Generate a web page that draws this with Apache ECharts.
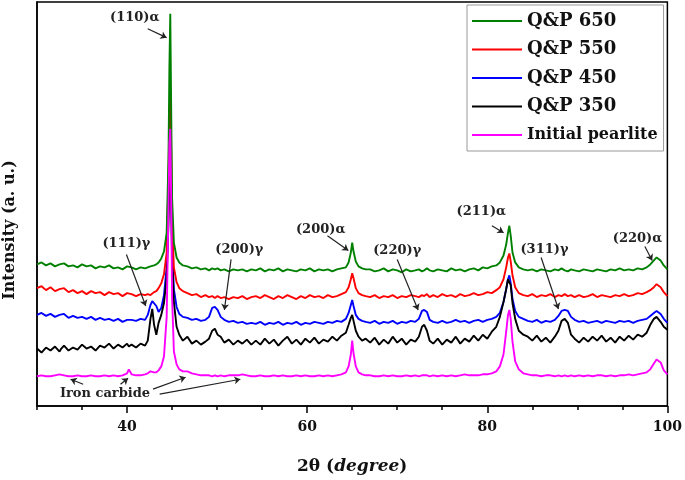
<!DOCTYPE html>
<html>
<head>
<meta charset="utf-8">
<script src="https://cdn.jsdelivr.net/npm/echarts@6/dist/echarts.min.js"></script>
<style>html,body{margin:0;padding:0;background:#fff}#c{width:685px;height:480px}</style>
</head>
<body>
<div id="c"></div>
<script>
const twoTheta = [
30,30.5,31,31.5,32,32.5,32.7,33,33.5,34,34.5,35,35.5,36,36.5,37,37.5,38,38.5,39,39.5,40,40.2,40.5,41,41.5,42,
42.3,42.6,42.8,43.0,43.25,43.5,43.8,44.1,44.4,44.6,44.7,44.8,44.9,45.0,45.2,45.5,45.8,46.2,46.7,47.2,47.7,48.2,48.7,49.1,49.45,49.75,50.05,50.4,50.8,51.3,51.8,52.3,52.8,53.3,53.8,
54.3,54.8,55.3,55.8,56.3,56.8,57.3,57.8,58.3,58.8,59.3,59.8,60.3,60.8,61.3,61.8,62.3,62.8,63.3,63.8,64.3,64.6,64.85,65.0,65.15,65.4,65.7,66.1,66.5,
67,67.5,68,68.5,69,69.5,70,70.5,71,71.5,72,72.4,72.75,73.0,73.3,73.6,74,74.5,75,75.5,76,76.5,77,77.5,78,78.5,79,79.5,80,80.5,81,81.4,81.8,82.1,82.3,82.45,82.6,82.8,83.1,83.5,84,
84.5,85,85.5,86,86.5,87,87.5,87.9,88.25,88.6,88.95,89.3,89.7,90.2,90.7,91.2,91.7,92.2,92.7,93.2,93.7,94.2,94.7,95.2,95.7,96.2,96.7,97.2,97.7,98.1,98.5,98.8,99.0,99.25,99.6,100
];
const qp650 = [
143,145,142,144,141,143,142,144,141,142,140,143,141,142,139,141,140,142,139,140,138,141,139,140,138,140,139,
140,141,140,142,143,145,149,156,175,250,340,396,300,210,165,150,145,142,141,139,140,138,139,137,139,138,139,137,138,136,138,137,138,136,138,
137,139,136,138,137,139,136,138,137,136,138,137,139,136,138,137,138,136,138,139,140,145,155,165,156,146,141,139,138,
138,136,137,139,136,138,137,135,138,136,137,138,136,137,139,137,136,138,137,136,139,137,138,136,138,139,137,140,139,141,142,145,152,163,175,182,172,155,145,140,138,
137,138,136,138,137,136,138,137,139,137,136,138,137,136,138,137,136,138,137,136,138,137,139,137,138,137,139,138,140,143,147,150,151,147,142,138
];
const qp550 = [
119,121,117,120,116,118,117,119,115,117,114,116,113,116,114,115,112,115,113,114,111,114,112,113,111,113,112,
113,112,114,115,116,119,124,133,155,230,290,315,260,185,140,125,119,116,114,112,113,110,112,110,111,109,111,109,110,108,110,109,111,108,110,
111,109,112,110,108,111,109,112,110,108,111,109,112,110,111,109,112,110,111,113,115,120,128,134,129,119,114,112,111,
110,112,109,111,110,112,109,111,110,112,111,110,112,111,113,110,112,110,113,111,112,110,113,111,112,114,112,113,115,114,117,120,128,140,150,154,146,132,120,114,112,
111,113,110,112,111,113,110,112,111,113,111,112,110,112,110,111,113,110,112,111,110,112,111,113,111,112,114,113,115,117,120,123,123,120,115,111
];
const qp450 = [
92,94,91,93,90,92,91,93,89,91,89,90,88,90,87,89,87,88,86,88,85,87,86,87,86,88,87,
92,102,106,108,101,95,99,112,140,200,245,270,220,160,118,100,93,90,89,87,88,86,87,90,99,100,97,90,87,85,86,84,85,83,84,
83,85,82,84,83,85,82,84,83,85,82,84,83,85,84,83,85,84,86,85,88,94,102,107,101,92,88,86,85,
84,86,83,85,84,86,83,85,84,86,85,88,96,97,95,87,85,84,86,84,85,87,85,86,84,86,87,85,87,88,90,94,105,118,128,132,124,108,96,90,88,
86,85,87,84,86,85,87,91,96,97,96,90,87,85,86,84,85,86,84,86,85,84,86,85,86,84,86,87,88,91,94,96,96,93,88,84
];
const qp350 = [
58,54,59,56,60,55,58,61,56,59,57,62,58,60,56,61,59,63,58,62,59,63,60,62,59,63,61,
66,88,98,82,72,84,92,104,130,185,230,250,205,150,105,80,72,66,70,63,66,62,65,68,76,78,72,70,64,67,62,66,63,67,62,
66,62,68,63,67,61,66,70,63,67,62,68,64,69,63,67,65,70,66,71,74,82,89,92,86,76,70,66,68,
64,69,62,67,63,70,64,68,62,67,65,70,80,82,76,66,63,68,62,67,64,70,63,68,65,71,66,72,68,75,80,90,105,118,128,130,122,104,88,76,72,
70,66,71,65,69,64,70,76,86,88,84,72,68,64,69,65,70,66,71,65,69,64,70,66,71,67,72,70,74,82,88,90,89,85,80,77
];
const pearlite = [
30,31,30,30,31,32,34,31,30,30,31,30,30,31,30,30,31,30,31,30,31,33,37,32,31,31,32,
33,35,36,34,34,36,40,50,90,200,265,280,210,110,55,42,37,35,35,33,32,31,31,31,30,31,30,31,30,31,31,31,32,31,30,
30,31,30,30,31,30,31,30,30,31,30,31,30,30,31,30,31,30,31,32,34,40,52,66,53,40,34,32,31,
31,30,30,31,30,31,30,30,31,30,31,30,31,31,31,30,31,30,31,30,31,30,31,32,31,31,31,32,32,33,35,40,52,75,92,97,88,65,45,37,33,
32,31,31,30,31,31,30,31,30,31,30,31,30,31,30,31,30,31,31,30,31,30,31,31,32,31,32,33,34,37,43,47,48,44,36,32
];
const seriesNames = ['Q&P 650','Q&P 550','Q&P 450','Q&P 350','Initial pearlite'];
const xLabelTicks = [40,60,80,100];
const peakLabels = ['(110)α','(111)γ','(200)γ','(200)α','(220)γ','(211)α','(311)γ','(220)α','Iron carbide'];
const peakLabelPos = [[40.85,392],[39.93,164],[52.47,158],[61.5,178],[70.0,157],[79.34,196],[86.35,158],[96.68,169],[37.55,13]];
const arrowLines = [
  [[42.29,381],[44.39,372]],
  [[39.93,153],[42.07,101]],
  [[51.55,148],[50.81,97]],
  [[62.25,172],[64.57,157]],
  [[70.0,148],[72.32,97]],
  [[80.51,182],[81.81,175]],
  [[85.98,150],[87.9,98]],
  [[97.5,161],[98.31,147]],
  [[35.13,22],[33.73,27]],
  [[39.27,22],[40.11,28]],
  [[42.88,17],[46.5,29]],
  [[43.62,12],[52.58,27]]
];

const FONT = 'DejaVu Serif';
const pairs = ys => twoTheta.map((x,i)=>[x, ys[i]]);
const colors = {'Q&P 650':'#008000','Q&P 550':'#ff0000','Q&P 450':'#0000ff','Q&P 350':'#000000','Initial pearlite':'#ff00ff'};
const dataMap = {'Q&P 650':qp650,'Q&P 550':qp550,'Q&P 450':qp450,'Q&P 350':qp350,'Initial pearlite':pearlite};
const drawOrder = ['Q&P 450','Q&P 350','Q&P 550','Q&P 650','Initial pearlite'];

const chart = echarts.init(document.getElementById('c'), null, {renderer:'canvas'});
const lineSeries = drawOrder.map(n => ({
  name: n, type: 'line', data: pairs(dataMap[n]), symbol: 'none', showSymbol: false,
  lineStyle: {color: colors[n], width: 1.9}, itemStyle: {color: colors[n]},
  silent: true, z: 2
}));

chart.setOption({
  animation: false,
  grid: {left: 37, right: 15, top: 2, bottom: 70, show: true, borderColor: '#000', borderWidth: 1.5, containLabel: false},
  legend: {
    data: seriesNames.map(n => n === 'Initial pearlite'
      ? {name: n, icon: 'rect', textStyle: {fontSize: 16, lineHeight: 18}}
      : {name: n, icon: 'rect'}),
    orient: 'vertical', left: 467, top: 5,
    padding: [7, 6, 7, 5], itemGap: 10.5, itemWidth: 50, itemHeight: 2,
    borderColor: '#999', borderWidth: 1, backgroundColor: '#fff',
    textStyle: {fontFamily: FONT, fontWeight: 'bold', fontSize: 18, lineHeight: 18, color: '#111'},
    selectedMode: false
  },
  xAxis: [{
    type: 'value', min: 30, max: 100,
    name: '{a|2θ (}{b|degree}{a|)}', nameLocation: 'middle', nameGap: 52,
    nameTextStyle: {rich: {
      a: {fontFamily: FONT, fontWeight: 'bold', fontSize: 17, color: '#111'},
      b: {fontFamily: FONT, fontWeight: 'bold', fontStyle: 'italic', fontSize: 17, color: '#111'}
    }},
    axisLine: {show: true, lineStyle: {color: '#000', width: 1.5}},
    axisTick: {show: true, customValues: xLabelTicks, length: 7, lineStyle: {color: '#000', width: 1.5}},
    axisLabel: {show: true, customValues: xLabelTicks, margin: 14, fontFamily: FONT, fontWeight: 'bold', fontSize: 14, color: '#111'},
    splitLine: {show: false}
  }, {
    type: 'value', min: 30, max: 100, interval: 5, position: 'bottom', gridIndex: 0,
    axisLine: {show: false},
    axisTick: {show: true, length: 4, lineStyle: {color: '#000', width: 1.5}},
    axisLabel: {show: false}, splitLine: {show: false}
  }],
  yAxis: {
    type: 'value', min: 0, max: 408,
    axisLine: {show: true, lineStyle: {color: '#000', width: 1.5}},
    axisTick: {show: false}, axisLabel: {show: false}, splitLine: {show: false}
  },
  graphic: [{
    type: 'text', x: 10, y: 230, rotation: Math.PI / 2,
    style: {text: 'Intensity (a. u.)', fontFamily: FONT, fontWeight: 'bold', fontSize: 16, fill: '#111', textAlign: 'center', textVerticalAlign: 'middle'}
  }],
  series: lineSeries.concat([
    {
      type: 'lines', coordinateSystem: 'cartesian2d', silent: true, z: 5,
      symbol: ['none', 'arrow'], symbolSize: 6,
      lineStyle: {color: '#222', width: 1.2, opacity: 1},
      data: arrowLines.map(c => ({coords: c}))
    },
    {
      type: 'scatter', silent: true, z: 6, symbolSize: 2, itemStyle: {color: 'rgba(0,0,0,0)'},
      data: peakLabels.map((t, i) => ({name: t, value: peakLabelPos[i]})),
      label: {show: true, position: 'inside', formatter: '{b}', fontFamily: FONT, fontWeight: 'bold',
        fontSize: 13, color: '#222', opacity: 1}
    }
  ])
});
</script>
</body>
</html>
